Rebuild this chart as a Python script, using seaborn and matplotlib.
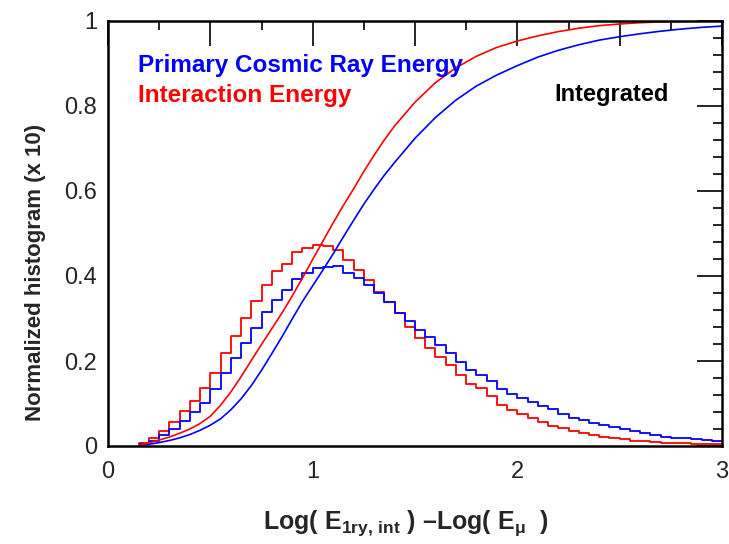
import numpy as np
import pandas as pd
import matplotlib
matplotlib.use("Agg")
import matplotlib.pyplot as plt
import seaborn as sns
from matplotlib.ticker import MultipleLocator, FuncFormatter

# ---------------- data ----------------
bin_edges = [0.15, 0.20, 0.25, 0.30, 0.35, 0.40, 0.45, 0.50, 0.55, 0.60,
             0.65, 0.70, 0.75, 0.80, 0.85, 0.90, 0.95, 1.00, 1.05, 1.10,
             1.15, 1.20, 1.25, 1.30, 1.35, 1.40, 1.45, 1.50, 1.55, 1.60,
             1.65, 1.70, 1.75, 1.80, 1.85, 1.90, 1.95, 2.00, 2.05, 2.10,
             2.15, 2.20, 2.25, 2.30, 2.35, 2.40, 2.45, 2.50, 2.55, 2.60,
             2.65, 2.70, 2.75, 2.80, 2.85, 2.90, 2.95, 3.00]

hist_primary = [0.005, 0.012, 0.026, 0.040, 0.060, 0.079, 0.102, 0.133, 0.171, 0.206,
                0.242, 0.278, 0.316, 0.343, 0.367, 0.392, 0.408, 0.418, 0.420, 0.424,
                0.406, 0.395, 0.379, 0.360, 0.338, 0.314, 0.293, 0.273, 0.256, 0.238,
                0.218, 0.198, 0.180, 0.167, 0.153, 0.135, 0.123, 0.112, 0.103, 0.094,
                0.086, 0.076, 0.067, 0.061, 0.055, 0.049, 0.044, 0.039, 0.035, 0.030,
                0.026, 0.022, 0.020, 0.018, 0.016, 0.014, 0.012]

hist_interaction = [0.008, 0.018, 0.035, 0.056, 0.083, 0.107, 0.136, 0.172, 0.220, 0.260,
                    0.302, 0.342, 0.379, 0.412, 0.429, 0.456, 0.465, 0.473, 0.471, 0.461,
                    0.438, 0.415, 0.390, 0.363, 0.339, 0.314, 0.281, 0.255, 0.231, 0.210,
                    0.191, 0.167, 0.147, 0.136, 0.118, 0.097, 0.085, 0.075, 0.065, 0.056,
                    0.048, 0.042, 0.035, 0.030, 0.026, 0.022, 0.018, 0.016, 0.012, 0.011,
                    0.009, 0.008, 0.007, 0.006, 0.005, 0.004, 0.004]

cum_x = [0.15, 0.20, 0.25, 0.30, 0.35, 0.40, 0.45, 0.50, 0.55, 0.60, 0.65, 0.70,
         0.75, 0.80, 0.85, 0.90, 0.95, 1.00, 1.05, 1.10, 1.15, 1.20, 1.25, 1.30,
         1.35, 1.40, 1.50, 1.60, 1.70, 1.80, 1.90, 2.00, 2.10, 2.20, 2.30, 2.40,
         2.50, 2.60, 2.70, 2.80, 2.90, 3.00]

cum_primary = [0.001, 0.004, 0.008, 0.013, 0.019, 0.027, 0.037, 0.049, 0.064, 0.085,
               0.111, 0.142, 0.178, 0.217, 0.257, 0.299, 0.340, 0.377, 0.414, 0.452,
               0.492, 0.531, 0.569, 0.604, 0.637, 0.667, 0.724, 0.773, 0.814, 0.847,
               0.873, 0.895, 0.915, 0.931, 0.944, 0.955, 0.963, 0.970, 0.976, 0.981,
               0.985, 0.988]

cum_interaction = [0.002, 0.007, 0.014, 0.021, 0.030, 0.040, 0.053, 0.070, 0.096, 0.127,
                   0.163, 0.201, 0.239, 0.276, 0.313, 0.353, 0.395, 0.439, 0.482, 0.525,
                   0.566, 0.605, 0.646, 0.684, 0.720, 0.753, 0.809, 0.855, 0.890, 0.917,
                   0.938, 0.953, 0.965, 0.975, 0.983, 0.989, 0.993, 0.996, 0.998, 0.999,
                   1.000, 1.000]

x_tick_labels = ["0", "1", "2", "3"]
y_tick_labels = ["0", "0.2", "0.4", "0.6", "0.8", "1"]

BLUE = "#0000ff"
RED = "#ff0000"

# ---------------- style ----------------
sns.set_style("white")
plt.rcParams["font.family"] = ["Liberation Sans", "DejaVu Sans"]
plt.rcParams["mathtext.fontset"] = "custom"
plt.rcParams["mathtext.rm"] = "Liberation Sans:bold"
plt.rcParams["mathtext.it"] = "Liberation Sans:bold"
plt.rcParams["mathtext.bf"] = "Liberation Sans:bold"

fig = plt.figure(figsize=(7.29, 5.44), dpi=100)
ax = fig.add_axes([108 / 729, 1 - 446 / 544, (722 - 108) / 729, (446 - 21) / 544])

# histograms
centers = [(a + b) / 2 for a, b in zip(bin_edges[:-1], bin_edges[1:])]
df_hist = pd.DataFrame({
    "x": centers + centers,
    "w": hist_primary + hist_interaction,
    "series": ["primary"] * len(hist_primary) + ["interaction"] * len(hist_interaction),
})
sns.histplot(data=df_hist, x="x", weights="w", hue="series", bins=bin_edges,
             element="step", fill=False, palette={"primary": BLUE, "interaction": RED},
             legend=False, linewidth=1.3, ax=ax)

# integrated curves
sns.lineplot(x=cum_x, y=cum_primary, color=BLUE, linewidth=1.2, ax=ax)
sns.lineplot(x=cum_x, y=cum_interaction, color=RED, linewidth=1.2, ax=ax)

# axes
ax.set_xlim(0, 3)
ax.set_ylim(0, 1)
ax.xaxis.set_major_locator(MultipleLocator(0.5))
ax.xaxis.set_minor_locator(MultipleLocator(0.25))
ax.yaxis.set_major_locator(MultipleLocator(0.2))
ax.yaxis.set_minor_locator(MultipleLocator(0.04))


def xfmt(v, pos):
    i = int(round(v))
    if abs(v - i) < 1e-6 and 0 <= i < len(x_tick_labels):
        return x_tick_labels[i]
    return ""


def yfmt(v, pos):
    i = int(round(v / 0.2))
    if abs(v - i * 0.2) < 1e-6 and 0 <= i < len(y_tick_labels):
        return y_tick_labels[i]
    return ""


ax.xaxis.set_major_formatter(FuncFormatter(xfmt))
ax.yaxis.set_major_formatter(FuncFormatter(yfmt))
ax.tick_params(which="both", direction="in", top=True, right=True, color="black",
               width=1.2)
ax.tick_params(which="major", length=18)
ax.tick_params(which="minor", length=6.5)
ax.tick_params(axis="x", which="major", pad=11, labelsize=17)
ax.tick_params(axis="y", which="major", pad=8, labelsize=17)
for s in ax.spines.values():
    s.set_color("black")
    s.set_linewidth(1.8)
ax.set_xlabel("")
ax.set_ylabel("")

# texts
fig.text(138 / 729, 1 - 72 / 544, "Primary Cosmic Ray Energy", color=BLUE,
         fontsize=17.5, fontweight="bold", ha="left", va="baseline")
fig.text(138 / 729, 1 - 102 / 544, "Interaction Energy", color=RED,
         fontsize=17.5, fontweight="bold", ha="left", va="baseline")
fig.text(612 / 729, 1 - 101 / 544, "Integrated", color="black",
         fontsize=17, fontweight="bold", ha="center", va="baseline")

fig.text(36 / 729, 1 - 272 / 544, "Normalized histogram (x 10)", rotation=90,
         fontsize=16, fontweight="bold", ha="center", va="center")
fig.text(406 / 729, 1 - 523 / 544,
         r"Log( E$_{\mathrm{1ry,\,int}}$ ) –Log( E$_{\mathrm{\mu}}$  )",
         fontsize=18, fontweight="bold", ha="center", va="center")

fig.savefig("out.png", dpi=100)
